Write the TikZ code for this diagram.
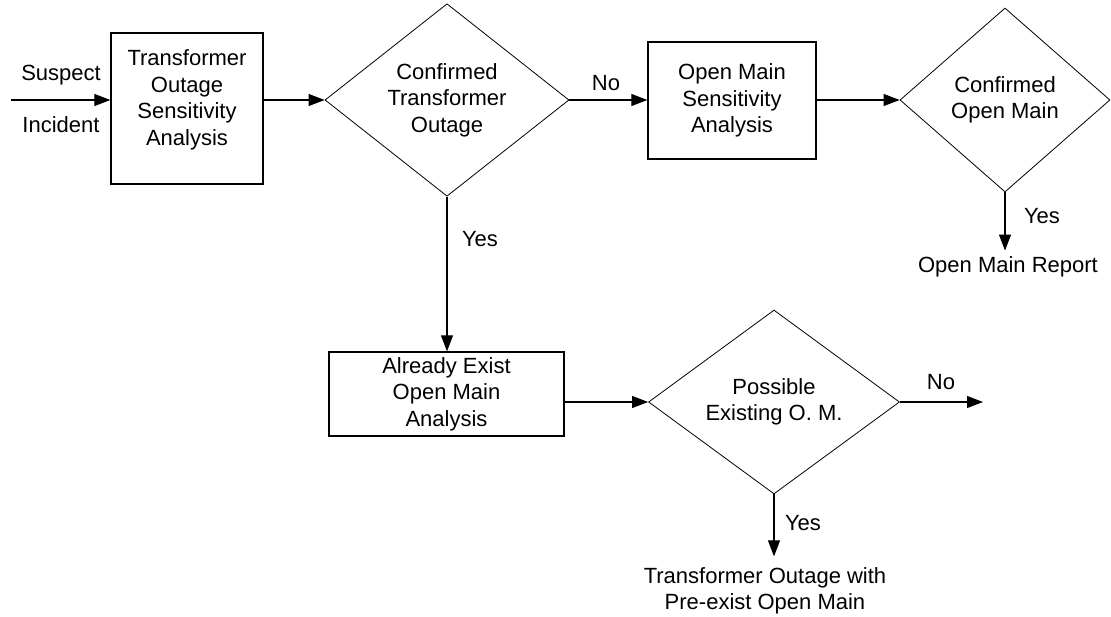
\documentclass[tikz,border=0pt]{standalone}
\usepackage{fontspec}
\setmainfont{Liberation Sans}
\usetikzlibrary{arrows.meta,shapes.geometric}

\tikzset{
  every node/.style={font=\fontsize{22}{26.5}\selectfont, inner sep=0pt},
  stepbox/.style={draw, line width=1.3pt, rectangle},
  decision/.style={draw, line width=0.8pt, diamond, align=center},
  txt/.style={align=center},
  flow/.style={line width=1.1pt, -{Triangle[length=16pt,width=12pt]}},
}

\begin{document}
\begin{tikzpicture}[x=1pt, y=-1pt]
  \useasboundingbox (0,0) rectangle (1111,617);

  % process boxes
  \node[stepbox, minimum width=152, minimum height=151] (tosa) at (187,108.5) {};
  \node[txt] (tosat) at (187,100) {Transformer\\Outage\\Sensitivity\\Analysis};
  \node[stepbox, minimum width=168, minimum height=117, align=center] (omsa) at (732,100.4)
    {Open Main\\Sensitivity\\Analysis};
  \node[stepbox, minimum width=235, minimum height=84, align=center] (aeom) at (446.5,394)
    {Already Exist\\Open Main\\Analysis};

  % decisions
  \node[decision, minimum width=244, minimum height=184] (cto) at (447,100)
    {Confirmed\\Transformer\\Outage};
  \node[decision, minimum width=210, minimum height=184] (com) at (1005,100)
    {Confirmed\\Open Main};
  \node[decision, minimum width=251, minimum height=176] (peom) at (774,402)
    {Possible\\Existing O. M.};

  % free ends
  \coordinate (start) at (11,100);
  \coordinate (noend) at (983,402);

  % outcomes
  \node[txt] (omr) at (1008,267) {Open Main Report};
  \node[txt] (topm) at (765,591) {Transformer Outage with\\Pre-exist Open Main};

  % connectors
  \draw[flow] (start) -- (tosa.west |- start);
  \draw[flow] (tosa.east |- cto) -- (cto.west);
  \draw[flow] (cto.east) -- (omsa.west |- cto);
  \draw[flow] (omsa.east |- com) -- (com.west);
  \draw[flow, shorten >=6pt] (com.south) -- (omr.north -| com.south);
  \draw[flow] (cto.south) -- (aeom.north -| cto.south);
  \draw[flow] (aeom.east |- peom) -- (peom.west);
  \draw[flow] (peom.east) -- (noend);
  \draw[flow] (peom.south) -- ++(0,62) coordinate (yesend);

  % connector labels
  \node (lsus) at (61,75) {Suspect};
  \node (linc) at (61,125) {Incident};
  \node (lno1) at (606,83) {No};
  \node (lyes1) at (480,239) {Yes};
  \node (lyes2) at (1042,216) {Yes};
  \node (lno3) at (941,382) {No};
  \node (lyes3) at (803,523) {Yes};
\end{tikzpicture}
\end{document}
